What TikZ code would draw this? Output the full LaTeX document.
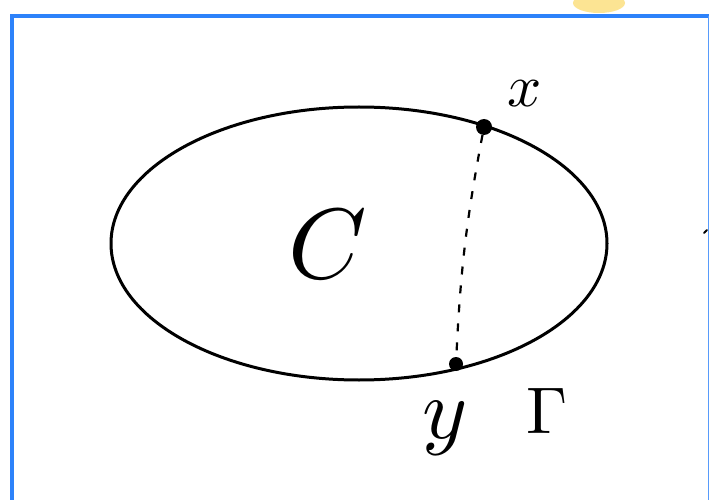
\documentclass[tikz,border=0pt]{standalone}
\begin{document}
\begin{tikzpicture}[x=1pt,y=-1pt,
  curve/.style={draw=black,line width=3pt},
  pointdot/.style={circle,fill=black,inner sep=0pt,minimum size=16pt},
  lbl/.style={inner sep=0pt,text=black}]
\definecolor{frameblue}{RGB}{45,130,250}
\definecolor{blobyellow}{RGB}{252,222,120}
\useasboundingbox (0,0) rectangle (710,500);
\fill[white] (0,0) rectangle (710,500);
% yellow blob
\fill[blobyellow,opacity=0.8] (599,3) ellipse (26 and 10);
% frame
\draw[frameblue,line width=3.5pt] (12,500) -- (12,16) -- (709,16);
\draw[frameblue!80,line width=1.5pt] (708.5,16) -- (708.5,500);
% ellipse Gamma
\draw[curve] (359,243.5) ellipse (248 and 136.5);
% points
\node[pointdot] (x) at (484,127) {};
\node[pointdot,minimum size=14pt] (y) at (456,364) {};
\draw[black,line width=2.2pt,dash pattern=on 8pt off 11pt] (x) to[bend right=4] (y);
% labels
\node[lbl,scale=6] (xl) at (525,94) {$x$};
\node[lbl,scale=8.6] (yl) at (445,428) {$y$};
\node[lbl,scale=6.6] (gl) at (547,411) {$\Gamma$};
\node[lbl,scale=10] (cl) at (328,244) {$C$};
% stray mark at right edge
\draw[black,line width=2pt,line cap=round] (704,233) -- (707,230);
\end{tikzpicture}
\end{document}
